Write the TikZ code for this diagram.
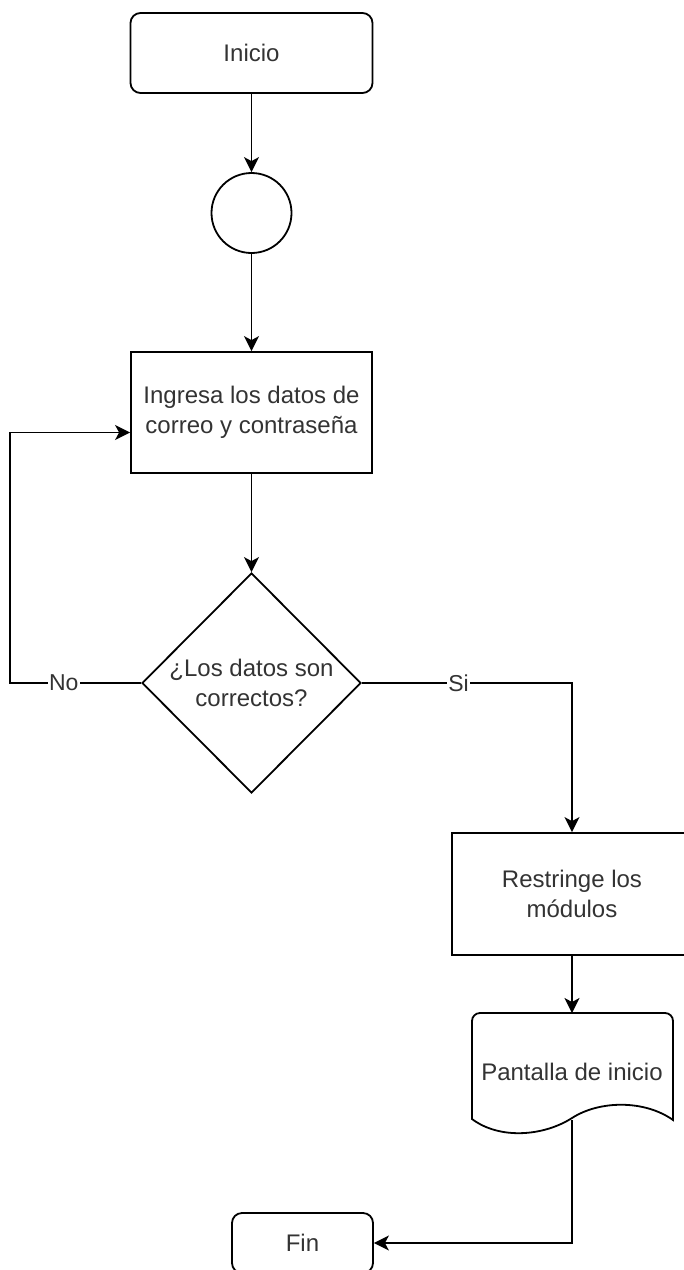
\documentclass[tikz,border=0pt]{standalone}
\usepackage{fontspec}
\setmainfont{Liberation Sans}
\usetikzlibrary{shapes.geometric,arrows.meta}
\definecolor{txt}{HTML}{333333}
\begin{document}
\begin{tikzpicture}[x=1pt,y=-1pt,
  every node/.style={font=\fontsize{24}{30}\selectfont, text=txt, align=center},
  box/.style={draw, line width=1.8pt, rectangle, inner sep=0pt},
  term/.style={box, rounded corners=10pt},
  conn/.style={line width=1.8pt},
  arr/.style={conn, -{Stealth[length=15pt,width=15pt,inset=4pt]}},
  lbl/.style={fill=white, inner sep=1pt, font=\fontsize{23}{26}\selectfont}]
\useasboundingbox (0,0) rectangle (684,1270);
\node[term, minimum width=242pt, minimum height=80pt] (inicio) at (251.5,53) {Inicio};
\node[draw, circle, line width=1.8pt, minimum size=80pt, inner sep=0pt] (circ) at (251.5,213) {};
\node[box, minimum width=241pt, minimum height=121pt] (ingresa) at (251.5,412.5) {Ingresa los datos de\\correo y contraseña};
\node[draw, diamond, line width=1.8pt, minimum width=219pt, minimum height=220pt, inner sep=0pt, aspect=1,
  label={center:{¿Los datos son\\correctos?}}] (dec) at (251.5,683) {};
\node[box, minimum width=240pt, minimum height=122pt] (restr) at (572,894) {Restringe los\\módulos};
\node (pant) at (572,1072) {Pantalla de inicio};
\coordinate (doctop) at (572,1013);
\coordinate (docbot) at (572,1120);
\draw[line width=1.8pt] (472,1119) -- (472,1021) arc[start angle=180,end angle=90,radius=8pt]
  -- (665,1013) arc[start angle=90,end angle=0,radius=8pt] -- (673,1120)
  .. controls (645,1100) and (600,1100) .. (572,1118)
  .. controls (544,1136) and (500,1140) .. (472,1119) -- cycle;
\node[term, minimum width=141pt, minimum height=60pt] (fin) at (302.5,1243) {Fin};
\draw[arr] (inicio) -- (circ);
\draw[arr] (circ) -- (ingresa);
\draw[arr] (ingresa) -- (dec);
\draw[arr] (dec.west) -- node[lbl, pos=0.59] {No} ++(-131,0) |- ([yshift=-20pt]ingresa.west);
\draw[arr] (dec.east) -- node[lbl, pos=0.46] {Si} (restr.north |- dec.east) -- (restr.north);
\draw[arr] (restr) -- (doctop);
\draw[arr] (docbot) |- (fin.east);
\end{tikzpicture}
\end{document}
